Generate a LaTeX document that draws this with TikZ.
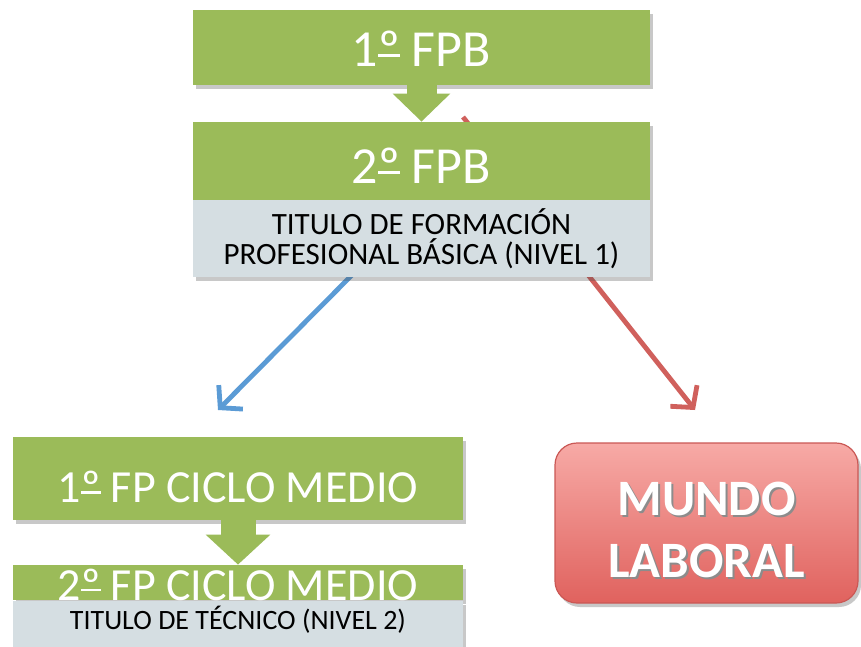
\documentclass[tikz,border=0pt]{standalone}
\usepackage{fontspec}
\setmainfont{Carlito}
\usetikzlibrary{arrows.meta,shadows}

\definecolor{fpgreen}{HTML}{9BBB59}
\definecolor{fpgray}{HTML}{D5DEE2}
\definecolor{fpblue}{HTML}{5B9BD5}
\definecolor{fpred}{HTML}{D0605C}
\definecolor{lablight}{HTML}{F7AAA6}
\definecolor{labdark}{HTML}{E0625E}

% ordinal with underline, as in the slide
\newcommand{\ordo}{\setbox0\hbox{º}\rlap{\rule[0.19em]{\wd0}{0.05em}}\box0}
% white text with soft dark shadow
\newcommand{\sombra}[1]{\rlap{\hspace{1pt}\raisebox{-1pt}{\textcolor{black!45}{#1}}}#1}

\tikzset{
  shade/.style={drop shadow={shadow xshift=1.5pt,shadow yshift=-2pt,opacity=0.3,fill=black!70}},
  curso/.style={fill=fpgreen,text=white,inner sep=0pt,shade,text depth=0pt,font=\fontsize{26}{28}\selectfont},
  titulo/.style={fill=fpgray,text=black,inner sep=0pt,align=center,shade,font=\fontsize{15.5}{15}\selectfont},
  paso/.style={fpgreen,line width=15pt,-{Triangle[length=14pt,width=28pt]}},
  salida/.style={line width=2.4pt,-{Straight Barb[length=7.5pt,width=17pt]}},
}

\begin{document}
\begin{tikzpicture}[x=0.5pt,y=-0.5pt]
\clip (0,0) rectangle (861,647);
\fill[white] (0,0) rectangle (861,647);

% salidas del 2o FPB
\coordinate (azul0) at (352,275);
\coordinate (azul1) at (218,410);
\coordinate (rojo0) at (463,117);
\coordinate (rojo1) at (695,410);
\draw[salida,fpblue] (azul0) -- (azul1);
\draw[salida,fpred] (rojo0) -- (rojo1);

% formacion profesional basica
\node[curso,minimum width=228.5pt,minimum height=37.5pt,text height=19.2pt] (fpb1) at (421.5,47.5) {1\ordo{} FPB};
\node[curso,minimum width=228.5pt,minimum height=39pt,text height=22.7pt] (fpb2) at (421.5,161) {2\ordo{} FPB};
\node[titulo,minimum width=228.5pt,minimum height=38.5pt,anchor=north] (fpb2tit) at ([yshift=0.5pt]fpb2.south)
  {TITULO DE FORMACIÓN\\PROFESIONAL BÁSICA (NIVEL 1)};
\draw[paso] (fpb1.south) ++(0,-2) -- (fpb2.north);

% ciclo medio
\node[curso,font=\fontsize{23}{25}\selectfont,minimum width=225pt,minimum height=41.5pt,text height=23.8pt]
  (cm1) at (238,478.5) {1\ordo{} FP CICLO MEDIO};
\node[curso,font=\fontsize{23}{25}\selectfont,minimum width=225pt,minimum height=17.5pt,text height=17.5pt]
  (cm2) at (238,582.5) {2\ordo{} FP CICLO MEDIO};
\node[titulo,font=\fontsize{14}{15}\selectfont,minimum width=225pt,minimum height=28pt,anchor=north,
  text height=9pt,text depth=8pt] (cm2tit) at (cm2.south) {TITULO DE TÉCNICO (NIVEL 2)};
\draw[paso,line width=17.5pt,-{Triangle[length=15pt,width=31.5pt]}] (cm1.south) ++(0,-2) -- (cm2.north);

% mundo laboral
\node[rounded corners=11pt,top color=lablight,bottom color=labdark,draw=labdark!90!black,line width=0.6pt,
  minimum width=151.5pt,minimum height=80pt,align=center,text=white,shade,
  font=\bfseries\fontsize{25.5}{31}\selectfont] (laboral) at (706.5,523)
  {\rule{0pt}{24.9pt}\sombra{MUNDO}\\\sombra{LABORAL}};
\end{tikzpicture}
\end{document}
